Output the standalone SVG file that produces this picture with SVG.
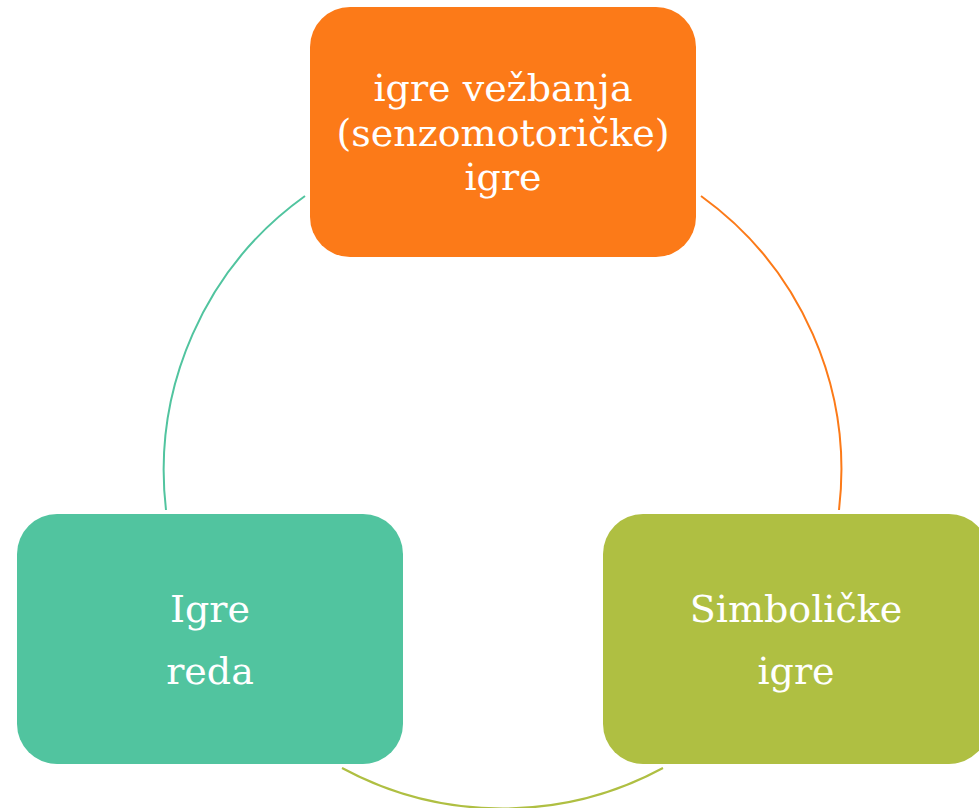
<svg xmlns="http://www.w3.org/2000/svg" width="979" height="808" viewBox="0 0 979 808">
<style>
.lbl{font-family:"DejaVu Serif","Liberation Serif",serif;font-size:38px;fill:#ffffff;text-anchor:middle}
.arc{fill:none;stroke-width:2}
</style>
<rect width="979" height="808" fill="#ffffff"/>
<g id="connectors">
<path class="arc" stroke="#51C49F" d="M305,196 A338,338 0 0 0 166,510"/>
<path class="arc" stroke="#FC7A18" d="M701,196 A338,338 0 0 1 839,510"/>
<path class="arc" stroke="#AFBF42" d="M342,768 A338,338 0 0 0 663,768"/>
</g>
<g id="node-top">
<rect x="310" y="7" width="386" height="250" rx="40" fill="#FC7A18"/>
<text class="lbl" x="503" y="101">igre vežbanja</text>
<text class="lbl" x="503" y="146">(senzomotoričke)</text>
<text class="lbl" x="503" y="190">igre</text>
</g>
<g id="node-left">
<rect x="17" y="514" width="386" height="250" rx="40" fill="#51C49F"/>
<text class="lbl" x="210" y="622">Igre</text>
<text class="lbl" x="210" y="684">reda</text>
</g>
<g id="node-right">
<rect x="603" y="514" width="386" height="250" rx="40" fill="#AFBF42"/>
<text class="lbl" x="796" y="622">Simboličke</text>
<text class="lbl" x="796" y="684">igre</text>
</g>
</svg>
